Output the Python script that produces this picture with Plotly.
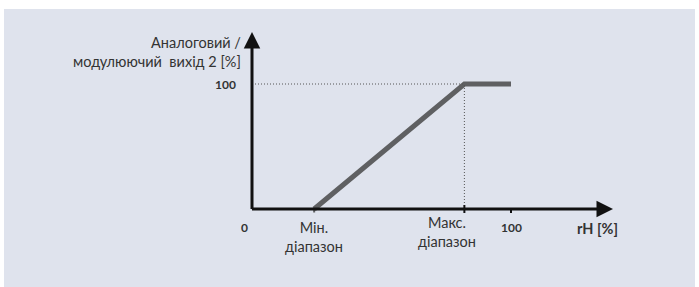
import plotly.graph_objects as go

# ---- data ----
curve_x = [24, 82, 100]          # rH [%] : Min range, Max range, 100
curve_y = [0, 100, 100]          # output [%]
min_range = 24
max_range = 82
x_tick_labels = ["0", "100"]
y_tick_labels = ["100"]
x_title = "rH [%]"
y_title = "Аналоговий /<br>модулюючий  вихід 2 [%]"
min_label = "Мін.<br>діапазон"
max_label = "Макс.<br>діапазон"

W, H = 699, 287
# pixel mapping (axis origin at px 252, 209)
ox, oy = 252, 209
sx = (511 - 252) / 100.0
sy = (209 - 84) / 100.0
xr = [-ox / sx, (W - ox) / sx]
yr = [(oy - H) / sy, oy / sy]

x_end = (613 - ox) / sx
y_end = (oy - 32) / sy

fig = go.Figure()

# background panel
fig.add_shape(type="rect", xref="paper", yref="paper", x0=4 / W, x1=695 / W, y0=0, y1=1 - 9 / H,
              fillcolor="#dfe3ed", line=dict(width=0), layer="below")

# dotted guides
fig.add_shape(type="line", x0=0, x1=max_range, y0=100, y1=100,
              line=dict(color="#555555", width=1, dash="1px,2px"))
fig.add_shape(type="line", x0=max_range, x1=max_range, y0=0, y1=100,
              line=dict(color="#555555", width=1, dash="1px,2px"))

# curve
fig.add_trace(go.Scatter(x=curve_x, y=curve_y, mode="lines",
                         line=dict(color="#5f6062", width=5), hoverinfo="skip", showlegend=False))

# min tick (gray)
fig.add_shape(type="line", x0=min_range, x1=min_range, y0=0, y1=-3.5 / sy,
              line=dict(color="#5f6062", width=2))
# ticks (black)
for xv in [max_range, 100]:
    fig.add_shape(type="line", x0=xv, x1=xv, y0=4 / sy if xv == max_range else 0, y1=-4 / sy,
                  line=dict(color="#111111", width=2))

# axes with arrows
fig.add_annotation(x=x_end, y=0, ax=-0.6, ay=0, axref="x", ayref="y", xref="x", yref="y",
                   showarrow=True, arrowhead=2, arrowsize=1.1, arrowwidth=3, arrowcolor="#111111", text="")
fig.add_annotation(x=0, y=y_end, ax=0, ay=-0.6 / sy * sx, axref="x", ayref="y", xref="x", yref="y",
                   showarrow=True, arrowhead=2, arrowsize=1.1, arrowwidth=3, arrowcolor="#111111", text="")

font = "Lato, 'Open Sans', sans-serif"
txt = "#333333"

# tick labels
fig.add_annotation(x=(244 - ox) / sx, y=(oy - 227) / sy, text="<b>" + x_tick_labels[0] + "</b>", showarrow=False,
                   font=dict(family=font, size=12, color=txt))
fig.add_annotation(x=100, y=(oy - 227) / sy, text="<b>" + x_tick_labels[1] + "</b>", showarrow=False,
                   font=dict(family=font, size=12, color=txt))
fig.add_annotation(x=(225 - ox) / sx, y=100, text="<b>" + y_tick_labels[0] + "</b>", showarrow=False,
                   font=dict(family=font, size=12, color=txt))

# range labels
fig.add_annotation(x=min_range, y=(oy - 237) / sy, text=min_label, showarrow=False,
                   font=dict(family=font, size=14.5, color=txt))
fig.add_annotation(x=(447 - ox) / sx, y=(oy - 232) / sy, text=max_label, showarrow=False,
                   font=dict(family=font, size=14.5, color=txt))

# axis titles
fig.add_annotation(x=(597 - ox) / sx, y=(oy - 228) / sy, text="<b>" + x_title + "</b>", showarrow=False,
                   font=dict(family=font, size=14.5, color=txt))
fig.add_annotation(x=(243 - ox) / sx, y=(oy - 52) / sy, text=y_title, showarrow=False, xanchor="right",
                   align="right", font=dict(family=font, size=14.5, color=txt))

fig.update_xaxes(range=xr, visible=False, fixedrange=True)
fig.update_yaxes(range=yr, visible=False, fixedrange=True)
fig.update_layout(width=W, height=H, margin=dict(l=0, r=0, t=0, b=0),
                  paper_bgcolor="white", plot_bgcolor="rgba(0,0,0,0)")

fig.write_html("out.html", config={"displayModeBar": False},
               post_script="document.body.style.margin='0';document.body.style.overflow='hidden';")
